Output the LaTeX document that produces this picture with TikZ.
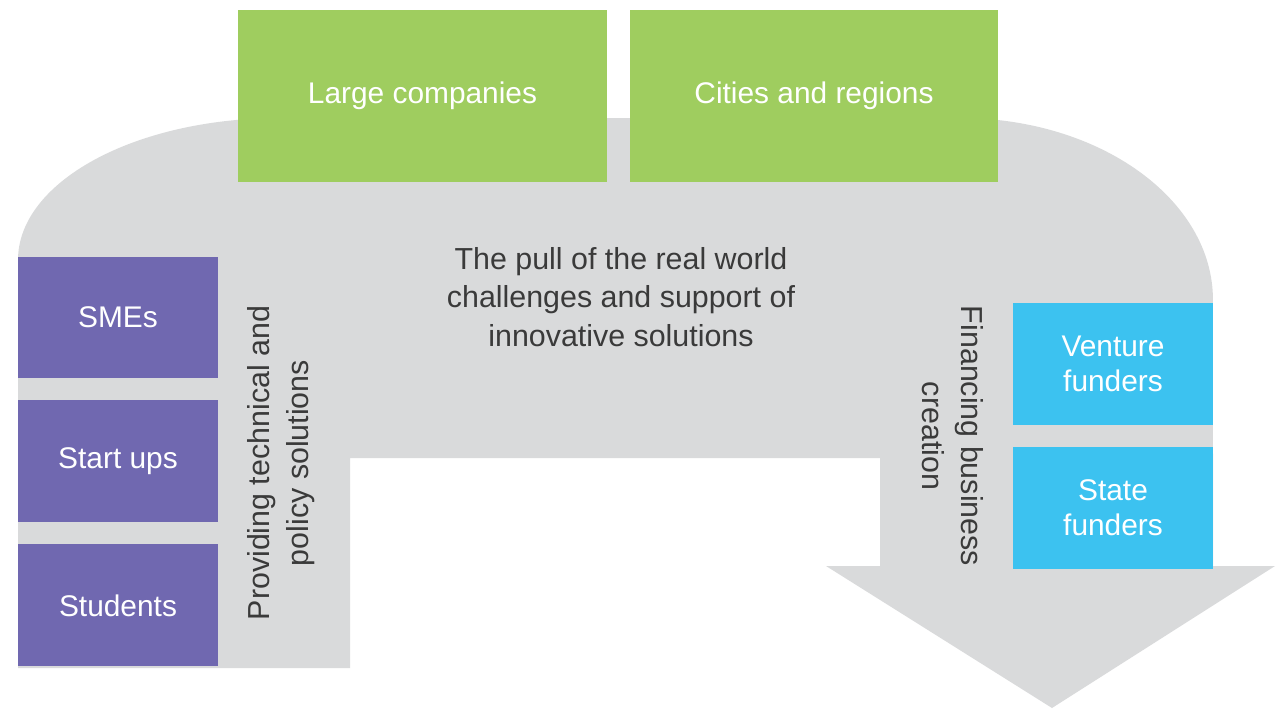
\documentclass[tikz,border=0pt]{standalone}
\usepackage{fontspec}
\setmainfont{Liberation Sans}
\usetikzlibrary{positioning}

\definecolor{flowgray}{HTML}{D9DADB}
\definecolor{textgray}{HTML}{3A3A3A}
\definecolor{usergreen}{HTML}{9FCD5F}
\definecolor{userpurple}{HTML}{7068B0}
\definecolor{funderblue}{HTML}{3CC2F0}

\tikzset{
  box/.style={inner sep=0pt, text=white, align=center,
    font=\fontsize{17}{20}\selectfont},
  greenbox/.style={box, fill=usergreen, minimum width=7.38cm, minimum height=3.44cm},
  purplebox/.style={box, fill=userpurple, minimum width=4cm, minimum height=2.44cm},
  bluebox/.style={box, fill=funderblue, minimum width=4cm, minimum height=2.44cm},
  flowtext/.style={text=textgray, align=center,
    font=\fontsize{17.3}{22}\selectfont}
}

\begin{document}
\begin{tikzpicture}[x=0.02cm, y=-0.02cm, node distance=2.88cm]
  \useasboundingbox (0,0) rectangle (1280,710);

  % the grey flow
  \fill[flowgray] (18,668) -- (18,260)
    arc[start angle=180, end angle=90, x radius=5.24cm, y radius=2.84cm]
    -- (960,118)
    arc[start angle=90, end angle=0, x radius=5.06cm, y radius=3.64cm]
    -- (1213,566) -- (1275,566) -- (1052,708) -- (826,566)
    -- (880,566) -- (880,458) -- (350,458) -- (350,668) -- cycle;

  \node[greenbox] (large)  at (422.5,96) {Large companies};
  \node[greenbox] (cities) at (814,96)   {Cities and regions};

  \node[purplebox]                (smes)     at (118,317.5) {SMEs};
  \node[purplebox, below of=smes] (startups) {Start ups};
  \node[purplebox, below of=startups] (students) {Students};

  \node[bluebox]                   (venture) at (1113,364) {Venture\\funders};
  \node[bluebox, below of=venture] (state)   {State\\funders};

  \node[flowtext] (pull) at (621,297)
    {The pull of the real world\\challenges and support of\\innovative solutions};
  \node[flowtext, rotate=90]  (providing) at (281,463)
    {Providing technical and\\policy solutions};
  \node[flowtext, rotate=-90] (financing) at (953,436)
    {Financing business\\creation};
\end{tikzpicture}
\end{document}
